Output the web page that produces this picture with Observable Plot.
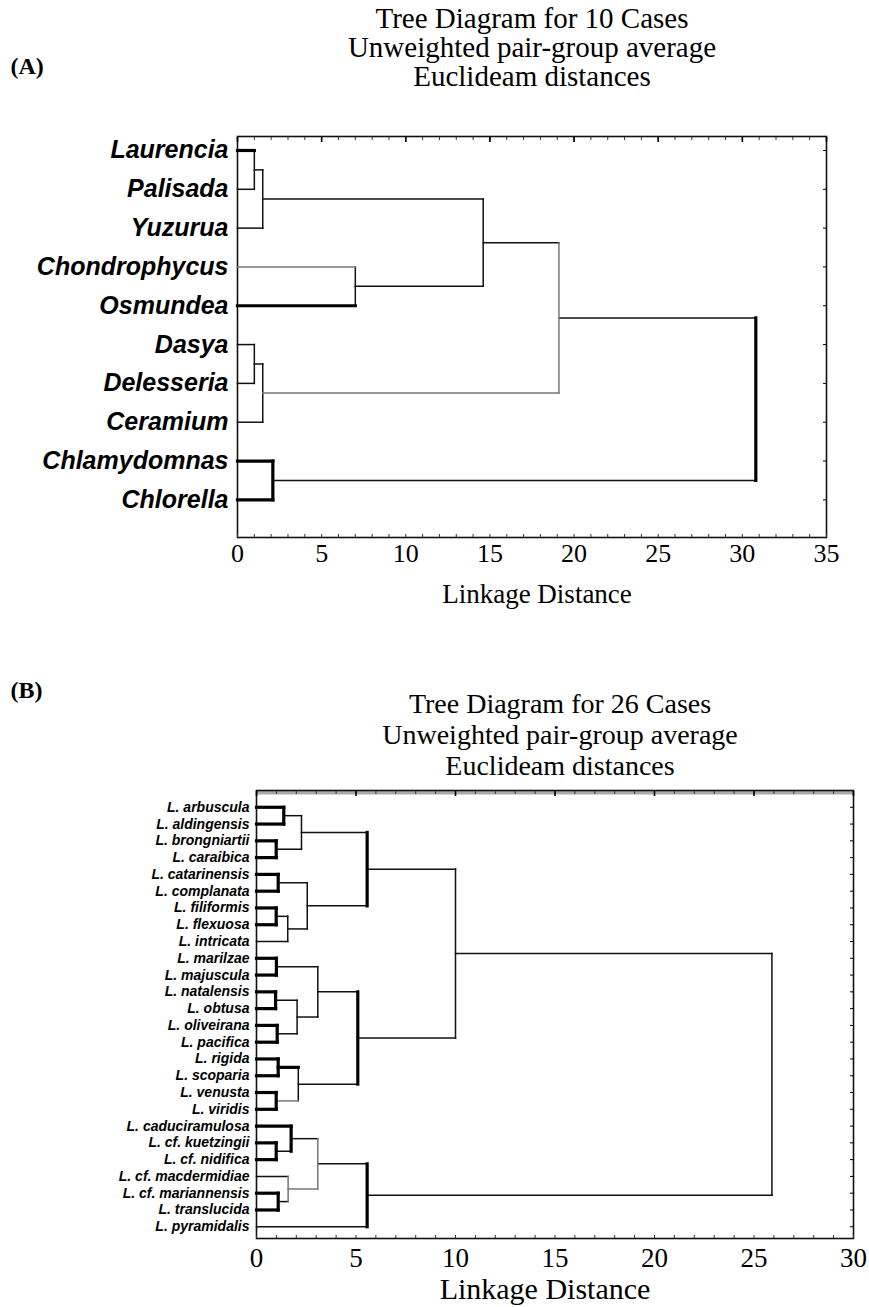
<!DOCTYPE html>
<html><head><meta charset="utf-8">
<script src="https://cdn.jsdelivr.net/npm/d3@7"></script>
<script src="https://cdn.jsdelivr.net/npm/@observablehq/plot@0.6"></script>
<style>
html,body{margin:0;padding:0;background:#fff;}
#root{width:869px;height:1307px;}
#root svg{display:block;overflow:visible;}
</style></head><body><div id="root"></div>
<script>
// ---------- Panel A data ----------
const titlesA = ["Tree Diagram for 10 Cases", "Unweighted pair-group average", "Euclideam distances"];
const leavesA = ["Laurencia","Palisada","Yuzurua","Chondrophycus","Osmundea","Dasya","Delesseria","Ceramium","Chlamydomnas","Chlorella"];
// merge k joins child mergeLeft[k] and mergeRight[k] (leaf index < n, or n + earlier merge index)
const mergeLeftA   = [0, 10, 3, 11, 5, 14, 13, 8, 16];
const mergeRightA  = [1, 2, 4, 12, 6, 7, 15, 9, 17];
const mergeHeightA = [1.0, 1.5, 7.0, 14.6, 1.0, 1.5, 19.1, 2.1, 30.8];
const ticksA = [0, 5, 10, 15, 20, 25, 30, 35];

// ---------- Panel B data ----------
const titlesB = ["Tree Diagram for 26 Cases", "Unweighted pair-group average", "Euclideam distances"];
const leavesB = ["L. arbuscula","L. aldingensis","L. brongniartii","L. caraibica","L. catarinensis","L. complanata",
  "L. filiformis","L. flexuosa","L. intricata","L. marilzae","L. majuscula","L. natalensis","L. obtusa",
  "L. oliveirana","L. pacifica","L. rigida","L. scoparia","L. venusta","L. viridis","L. caduciramulosa",
  "L. cf. kuetzingii","L. cf. nidifica","L. cf. macdermidiae","L. cf. mariannensis","L. translucida","L. pyramidalis"];
const mergeLeftB   = [0, 2, 26, 4, 6, 30, 29, 28, 9, 11, 13, 35, 34, 15, 17, 39, 38, 33, 20, 19, 23, 22, 45, 48, 43];
const mergeRightB  = [1, 3, 27, 5, 7, 8, 31, 32, 10, 12, 14, 36, 37, 16, 18, 40, 41, 42, 21, 44, 24, 46, 47, 25, 49];
const mergeHeightB = [1.37, 0.99, 2.26, 1.09, 0.99, 1.57, 2.55, 5.56, 1.0, 0.96, 1.04, 2.04, 3.08, 1.09, 0.99, 2.1, 5.09, 10.0,
  0.99, 1.74, 1.09, 1.59, 3.08, 5.56, 25.9];
const ticksB = [0, 5, 10, 15, 20, 25, 30];

// ---------- line emphasis (style only) ----------
const heavyA = new Set(["0a","2b","7a","7b","7v","8v"]);
const grayA = new Set(["2a","6b","6v"]);
const heavyB = new Set([0,1,3,4,8,9,10,13,14,18,20].flatMap(k => [k+"a", k+"b", k+"v"]).concat(["7v","16v","23v","19a","19v","15a"]));
const grayB = new Set(["21v","22v","22b","15b"]);

function segments(leaves, left, right, height) {
  const pos = leaves.map((_, i) => ({x: 0, y: i}));
  const segs = [];
  left.forEach((a, k) => {
    const b = right[k], h = height[k];
    const pa = pos[a], pb = pos[b];
    segs.push({key: k + "a", x1: pa.x, y1: pa.y, x2: h, y2: pa.y});
    segs.push({key: k + "b", x1: pb.x, y1: pb.y, x2: h, y2: pb.y});
    segs.push({key: k + "v", x1: h, y1: pa.y, x2: h, y2: pb.y});
    pos.push({x: h, y: (pa.y + pb.y) / 2});
  });
  return segs;
}

const serif = "'Liberation Serif','Times New Roman',serif";
const sans = "'Liberation Sans',Arial,sans-serif";

function panel(cfg) {
  const segs = segments(cfg.leaves, cfg.left, cfg.right, cfg.height);
  const isHeavy = d => cfg.heavy.has(d.key);
  const isGray = d => cfg.gray.has(d.key) && !cfg.heavy.has(d.key);
  const xmax = cfg.ticks[cfg.ticks.length - 1];
  const marks = [];
  if (cfg.topBand) marks.push(Plot.ruleY([cfg.ydomain[0]], {stroke: "#aaa", strokeWidth: 4, dy: 2}));
  marks.push(
    Plot.frame({stroke: "#111", strokeWidth: 1.6}),
    // inward minor ticks top & bottom, inward ticks right at leaves
    Plot.axisX({anchor: "top", ticks: d3.range(0, xmax + 1, 1), tickSize: -3, text: null, stroke: "#333"}),
    Plot.axisX({anchor: "top", ticks: cfg.ticks, tickSize: -5, text: null, strokeWidth: 1.6}),
    Plot.axisX({anchor: "bottom", ticks: d3.range(0, xmax + 1, 1), tickSize: -3, text: null, stroke: "#333"}),
    Plot.axisX({anchor: "bottom", ticks: cfg.ticks, tickSize: 0, tickPadding: cfg.tickPad, fontSize: cfg.tickFont, fontFamily: serif, label: null}),
    Plot.axisY({anchor: "right", ticks: d3.range(cfg.leaves.length), tickSize: -4, text: null}),
    // dendrogram
    Plot.link(segs.filter(d => !isHeavy(d) && !isGray(d)), {x1: "x1", y1: "y1", x2: "x2", y2: "y2", stroke: "#111", strokeWidth: 1.5, strokeLinecap: "square"}),
    Plot.link(segs.filter(isGray), {x1: "x1", y1: "y1", x2: "x2", y2: "y2", stroke: "#777", strokeWidth: 1.5, strokeLinecap: "square"}),
    Plot.link(segs.filter(isHeavy), {x1: "x1", y1: "y1", x2: "x2", y2: "y2", stroke: "#000", strokeWidth: 3.2, strokeLinecap: "square"}),
    // leaf labels
    Plot.text(cfg.leaves, {x: 0, y: (d, i) => i, text: d => d, textAnchor: "end", dx: cfg.labelDx,
      fontSize: cfg.labelFont, fontWeight: "bold", fontStyle: "italic", fontFamily: sans, fill: "#000"}),
    // titles
    Plot.text([cfg.titles.join("\n")], {frameAnchor: "top", lineAnchor: "bottom", dy: cfg.titleDy, dx: cfg.titleDx,
      lineHeight: cfg.titleLH, fontSize: cfg.titleFont, fontFamily: serif, fill: "#000"}),
    // panel tag
    Plot.text([cfg.tag], {frameAnchor: "top-left", textAnchor: "start", dx: cfg.tagDx, dy: cfg.tagDy,
      fontSize: 24, fontWeight: "bold", fontFamily: serif, fill: "#000"}),
    // x-axis label
    Plot.text(["Linkage Distance"], {frameAnchor: "bottom", lineAnchor: "middle", dy: cfg.xlabDy, dx: cfg.xlabDx,
      fontSize: cfg.xlabFont, fontFamily: serif, fill: "#000"})
  );
  return Plot.plot({
    width: 869, height: cfg.svgHeight,
    marginLeft: cfg.ml, marginRight: cfg.mr, marginTop: cfg.mt, marginBottom: cfg.mb,
    x: {domain: [0, xmax]},
    y: {domain: cfg.ydomain, reverse: true},
    style: {fontFamily: serif, background: "transparent", overflow: "visible"},
    marks
  });
}

const root = document.getElementById("root");
root.append(panel({
  leaves: leavesA, left: mergeLeftA, right: mergeRightA, height: mergeHeightA, ticks: ticksA,
  heavy: heavyA, gray: grayA, titles: titlesA, tag: "(A)", topBand: false,
  svgHeight: 640, ml: 237, mr: 43, mt: 136, mb: 103, ydomain: [-0.36, 9.97],
  tickPad: 6, tickFont: 26, labelDx: -9, labelFont: 25,
  titleDy: -51, titleDx: 0, titleLH: 1.0, titleFont: 29,
  tagDx: -227, tagDy: -80, xlabDy: 57, xlabDx: 5, xlabFont: 27
}));
root.append(panel({
  leaves: leavesB, left: mergeLeftB, right: mergeRightB, height: mergeHeightB, ticks: ticksB,
  heavy: heavyB, gray: grayB, titles: titlesB, tag: "(B)", topBand: true,
  svgHeight: 667, ml: 256, mr: 16, mt: 150, mb: 69, ydomain: [-1.0, 25.7],
  tickPad: 9, tickFont: 27, labelDx: -7, labelFont: 14,
  titleDy: -16, titleDx: 5, titleLH: 1.1, titleFont: 28,
  tagDx: -246, tagDy: -110, xlabDy: 51, xlabDx: -10, xlabFont: 30
}));
</script></body></html>
